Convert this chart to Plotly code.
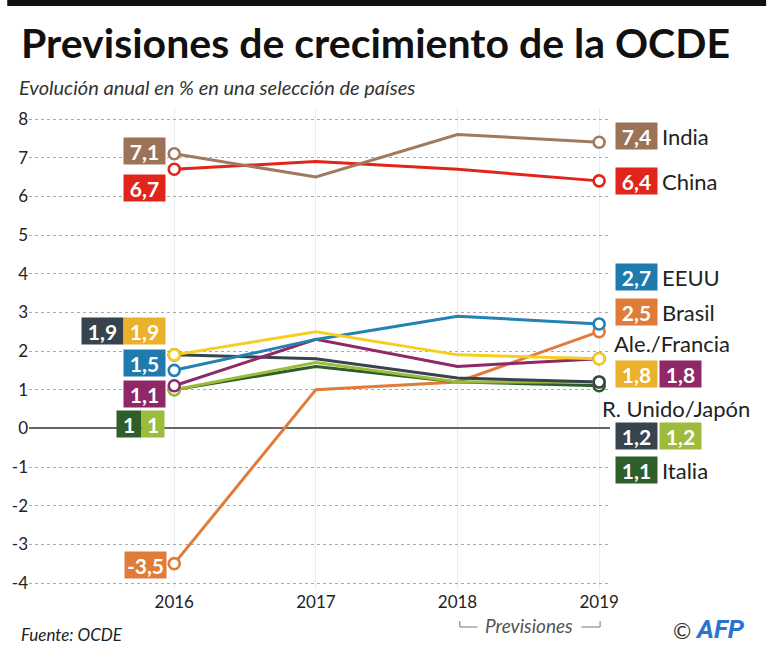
import plotly.graph_objects as go

# ---------------- data ----------------
years = [2016, 2017, 2018, 2019]
india = [7.1, 6.5, 7.6, 7.4]
china = [6.7, 6.9, 6.7, 6.4]
eeuu = [1.5, 2.3, 2.9, 2.7]
brasil = [-3.5, 1.0, 1.2, 2.5]
alemania = [1.9, 2.5, 1.9, 1.8]
francia = [1.1, 2.3, 1.6, 1.8]
runido = [1.9, 1.8, 1.3, 1.2]
japon = [1.0, 1.7, 1.2, 1.2]
italia = [1.0, 1.6, 1.2, 1.1]

y_tickvals = [8, 7, 6, 5, 4, 3, 2, 1, 0, -1, -2, -3, -4]
y_ticktext = ["8", "7", "6", "5", "4", "3", "2", "1", "0", "-1", "-2", "-3", "-4"]
x_ticktext = ["2016", "2017", "2018", "2019"]

# ---------------- style ----------------
FONT = "Lato"
W, H = 768, 656
ML, MR, MT, MB = 22, 158, 108, 66
PW, PH = W - ML - MR, H - MT - MB


def px(x):
    return (x - ML) / PW


def py(y):
    return (H - MB - y) / PH


series = [
    # name, values, line colour, box colour
    ("Brasil", brasil, "#e07b39", "#e07b39"),
    ("Italia", italia, "#2e5e2a", "#2e5e2a"),
    ("Japón", japon, "#9ebc3c", "#9ebc3c"),
    ("R. Unido", runido, "#37444d", "#37444d"),
    ("Francia", francia, "#8e2866", "#8e2866"),
    ("EEUU", eeuu, "#2382b3", "#1f7bad"),
    ("Alemania", alemania, "#f5cf1f", "#ebb02c"),
    ("China", china, "#e1251b", "#e1251b"),
    ("India", india, "#a07a5e", "#9c7357"),
]

fig = go.Figure()
for name, vals, lc, bc in series:
    fig.add_trace(go.Scatter(x=years, y=vals, mode="lines", name=name,
                             line=dict(color=lc, width=3), showlegend=False,
                             hoverinfo="skip"))
for name, vals, lc, bc in series:
    fig.add_trace(go.Scatter(x=[years[0], years[-1]], y=[vals[0], vals[-1]],
                             mode="markers", showlegend=False, hoverinfo="skip",
                             marker=dict(size=11, color="white",
                                         line=dict(color=lc, width=2.6))))


def fmt(v):
    s = ("%g" % v) if float(v).is_integer() else ("%.1f" % v)
    return s.replace(".", ",")


ann = []


def box(x, v, color, xs, ys, w=41):
    ann.append(dict(x=x, y=v, xref="x", yref="y", text="<b>%s</b>" % fmt(v),
                    showarrow=False, xshift=xs, yshift=ys, width=w, height=26,
                    bgcolor=color, borderpad=0, align="center", valign="middle",
                    font=dict(family=FONT, size=21, color="white")))


colors = {n: bc for n, v, lc, bc in series}
# left (2016) labels
box(years[0], india[0], colors["India"], -30, 2.7)
box(years[0], china[0], colors["China"], -30, -18.8)
box(years[0], runido[0], colors["R. Unido"], -72, 23.8)
box(years[0], alemania[0], colors["Alemania"], -30, 23.8)
box(years[0], eeuu[0], colors["EEUU"], -30, 7.3)
box(years[0], francia[0], colors["Francia"], -30, -8.2)
box(years[0], italia[0], colors["Italia"], -45, -34.4, w=24)
box(years[0], japon[0], colors["Japón"], -21, -34.4, w=22)
box(years[0], brasil[0], colors["Brasil"], -29, -1.3)
# right (2019) labels
box(years[-1], india[-1], colors["India"], 37, 6)
box(years[-1], china[-1], colors["China"], 37, 0)
box(years[-1], eeuu[-1], colors["EEUU"], 37, 47)
box(years[-1], brasil[-1], colors["Brasil"], 37, 19.6)
box(years[-1], alemania[-1], colors["Alemania"], 37, -15.3)
box(years[-1], francia[-1], colors["Francia"], 81, -15.3)
box(years[-1], runido[-1], colors["R. Unido"], 37, -54)
box(years[-1], japon[-1], colors["Japón"], 81, -54)
box(years[-1], italia[-1], colors["Italia"], 37, -84)


def text(x, y, t, size=22, color="#222", xanchor="left", italic=False, bold=False, family=FONT):
    if bold:
        t = "<b>%s</b>" % t
    if italic:
        t = "<i>%s</i>" % t
    ann.append(dict(x=px(x), y=py(y), xref="paper", yref="paper", text=t,
                    showarrow=False, xanchor=xanchor, yanchor="middle",
                    font=dict(family=family, size=size, color=color)))


text(661, 136, "India")
text(661, 181, "China")
text(661, 277, "EEUU")
text(661, 312, "Brasil")
text(612, 343, "Ale./Francia")
text(600, 408, "R. Unido/Japón")
text(661, 470, "Italia")

text(12, 42, "Previsiones de crecimiento de la OCDE", size=41, color="#111", bold=True)
text(10, 87, "Evolución anual en % en una selección de países", size=20, color="#333", italic=True)
text(12, 634, "Fuente: OCDE", size=17, color="#222", italic=True)
text(528, 625, "Previsiones", size=19, color="#555", xanchor="center", italic=True)
text(672, 630, "©", size=22, color="#333")
text(694, 629, "AFP", size=26, color="#2a74cf", italic=True, bold=True, family="Roboto")

shapes = [
    dict(type="rect", xref="paper", yref="paper", x0=px(0), x1=px(W), y0=py(0), y1=py(6),
         fillcolor="#111", line=dict(width=0)),
    dict(type="line", xref="paper", yref="paper", x0=px(458), x1=px(476), y0=py(627), y1=py(627),
         line=dict(color="#777", width=1)),
    dict(type="line", xref="paper", yref="paper", x0=px(458), x1=px(458), y0=py(621), y1=py(627),
         line=dict(color="#777", width=1)),
    dict(type="line", xref="paper", yref="paper", x0=px(581), x1=px(600), y0=py(627), y1=py(627),
         line=dict(color="#777", width=1)),
    dict(type="line", xref="paper", yref="paper", x0=px(600), x1=px(600), y0=py(621), y1=py(627),
         line=dict(color="#777", width=1)),
]

x0 = years[0] - (169 - ML) / 143.33
x1 = years[-1] + (ML + PW - 599) / 143.33
y_top = 8 + (119 - MT) / 38.67
y_bot = -4 - (H - MB - 583) / 38.67

fig.update_layout(
    width=W, height=H, margin=dict(l=ML, r=MR, t=MT, b=MB),
    paper_bgcolor="white", plot_bgcolor="white",
    font=dict(family=FONT, color="#222"),
    annotations=ann, shapes=shapes,
    xaxis=dict(range=[x0, x1], tickvals=years, ticktext=x_ticktext, showgrid=True,
               gridcolor="#ececec", gridwidth=1, zeroline=False, showline=False,
               ticks="", tickfont=dict(size=17, color="#222"), fixedrange=True),
    yaxis=dict(range=[y_bot, y_top], tickvals=y_tickvals, ticktext=y_ticktext,
               showgrid=True, gridcolor="#aaaaaa", griddash="dot", gridwidth=1,
               zeroline=True, zerolinecolor="#666", zerolinewidth=1.5,
               showline=False, ticks="", tickfont=dict(size=17, color="#222"),
               fixedrange=True),
)

fig.write_html("out.html", config={"displayModeBar": False},
               post_script="document.body.style.margin='0';document.body.style.overflow='hidden';")
